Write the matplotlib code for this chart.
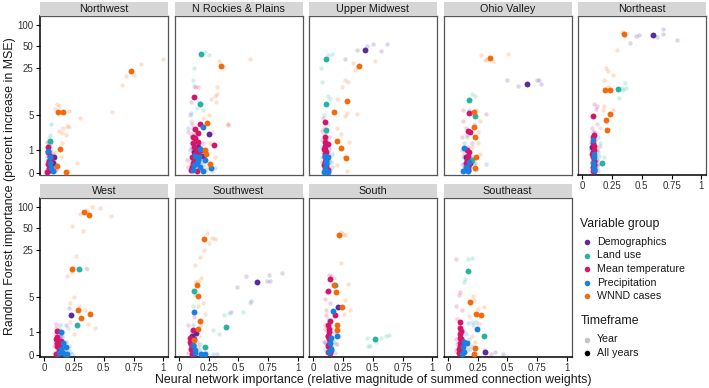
import matplotlib.pyplot as plt
import numpy as np

plt.rcParams['font.family'] = ['Liberation Sans', 'DejaVu Sans']

regions = ["Northwest", "N Rockies & Plains", "Upper Midwest", "Ohio Valley", "Northeast",
           "West", "Southwest", "South", "Southeast"]
group_names = ["Demographics", "Land use", "Mean temperature", "Precipitation", "WNND cases"]
group_codes = ["D", "L", "T", "P", "W"]
group_colors = ["#5b2a9d", "#27b3a0", "#d3166a", "#1b7fe2", "#f26a0c"]
y_ticks = [0, 1, 5, 25, 50, 100]
x_ticks = [0, 0.25, 0.5, 0.75, 1]
x_tick_labels = ["0", "0.25", "0.5", "0.75", "1"]

# (group, neural net importance, RF importance) -- "All years" models
nw_all = [("W", 0.726, 23.1), ("W", 0.116, 5.6), ("W", 0.161, 5.6), ("W", 0.133, 1.09), ("W", 0.11, 0.22),
          ("W", 0.18, 0.02), ("L", 0.048, 1.7), ("T", 0.03, 1.2), ("T", 0.03, 0.9), ("T", 0.04, 0.42),
          ("T", 0.02, 0.03), ("T", 0.05, 0.7), ("P", 0.045, 0.6), ("P", 0.06, 0.15), ("D", 0.07, 0.35),
          ("T", 0.04, 0.15), ("T", 0.06, 0.55), ("T", 0.03, 0.3), ("P", 0.05, 0.35), ("P", 0.07, 0.05),
          ("P", 0.035, 0.95), ("D", 0.05, 0.1), ("D", 0.08, 0.6)]
nr_all = [("L", 0.19, 39), ("L", 0.18, 7.5), ("W", 0.357, 27), ("W", 0.24, 3.7), ("W", 0.23, 0.8),
          ("W", 0.265, 0.32), ("W", 0.22, 1.05), ("T", 0.125, 9.4), ("T", 0.18, 3.6), ("T", 0.14, 2.9),
          ("T", 0.295, 1.35), ("T", 0.12, 2.0), ("T", 0.16, 1.6), ("T", 0.13, 1.2), ("T", 0.19, 1.0),
          ("T", 0.11, 0.6), ("T", 0.15, 0.4), ("T", 0.10, 0.1), ("T", 0.12, 1.5), ("T", 0.14, 0.8),
          ("P", 0.20, 3.2), ("P", 0.18, 1.1), ("P", 0.27, 0.16), ("P", 0.16, 0.5), ("P", 0.13, 0.25),
          ("P", 0.2, 0.05), ("P", 0.22, 0.5), ("D", 0.25, 2.35), ("D", 0.2, 0.7), ("D", 0.14, 0.3),
          ("T", 0.13, 0.5), ("T", 0.15, 1.0), ("T", 0.12, 0.35), ("T", 0.17, 0.75), ("T", 0.14, 1.9),
          ("T", 0.16, 2.4), ("T", 0.11, 0.2), ("T", 0.15, 0.05), ("P", 0.15, 0.35), ("P", 0.18, 0.2),
          ("P", 0.12, 0.1), ("P", 0.17, 0.6), ("P", 0.14, 0.7), ("D", 0.16, 1.2), ("D", 0.13, 0.9)]
um_all = [("D", 0.432, 45.3), ("L", 0.107, 33.2), ("L", 0.104, 7.4), ("L", 0.105, 2.74), ("W", 0.384, 27.1),
          ("W", 0.28, 8.44), ("W", 0.172, 5.56), ("W", 0.20, 1.69), ("W", 0.229, 1.18), ("W", 0.277, 0.58),
          ("T", 0.102, 3.9), ("T", 0.10, 2.04), ("T", 0.10, 1.27), ("T", 0.1, 0.8), ("T", 0.11, 0.5),
          ("T", 0.09, 0.25), ("T", 0.12, 0.1), ("T", 0.095, 1.6), ("P", 0.105, 0.35), ("P", 0.09, 0.02),
          ("P", 0.12, 0.6), ("T", 0.1, 0.6), ("T", 0.11, 0.9), ("T", 0.09, 1.1), ("T", 0.1, 0.4),
          ("T", 0.11, 0.2), ("T", 0.1, 0.05), ("T", 0.12, 1.4), ("P", 0.1, 0.15), ("P", 0.11, 0.45),
          ("P", 0.12, 0.02), ("P", 0.1, 0.7), ("D", 0.11, 0.3), ("D", 0.1, 1.0)]
ov_all = [("W", 0.353, 35.1), ("W", 0.221, 5.7), ("W", 0.221, 3.2), ("W", 0.232, 2.04), ("W", 0.24, 0.63),
          ("W", 0.23, 0.16), ("D", 0.664, 15.0), ("D", 0.19, 0.35), ("L", 0.181, 8.75), ("L", 0.226, 4.9),
          ("L", 0.204, 0.47), ("T", 0.175, 5.5), ("T", 0.167, 2.67), ("T", 0.185, 2.5), ("T", 0.165, 1.0),
          ("T", 0.17, 0.7), ("T", 0.18, 0.3), ("T", 0.16, 0.1), ("P", 0.139, 1.18), ("P", 0.15, 0.2),
          ("P", 0.17, 0.05), ("T", 0.16, 0.5), ("T", 0.17, 0.2), ("T", 0.15, 0.35), ("T", 0.18, 0.9),
          ("P", 0.16, 0.15), ("P", 0.13, 0.05), ("P", 0.18, 0.4), ("D", 0.17, 0.1), ("D", 0.15, 0.6)]
ne_all = [("W", 0.347, 73.6), ("W", 0.192, 12.0), ("W", 0.232, 12.2), ("W", 0.232, 5.2), ("W", 0.195, 4.2),
          ("W", 0.206, 2.82), ("D", 0.59, 71.5), ("L", 0.30, 12.4), ("L", 0.167, 0.35), ("T", 0.093, 4.9),
          ("T", 0.095, 2.2), ("T", 0.09, 1.5), ("T", 0.1, 1.0), ("T", 0.09, 0.6), ("T", 0.095, 0.3),
          ("T", 0.09, 0.05), ("P", 0.09, 1.8), ("P", 0.1, 0.8), ("P", 0.1, 0.1), ("D", 0.085, 1.2),
          ("D", 0.1, 0.45), ("T", 0.09, 0.2), ("T", 0.1, 0.45), ("T", 0.085, 0.8), ("T", 0.1, 1.3),
          ("T", 0.09, 2.0), ("T", 0.1, 0.1), ("P", 0.095, 0.15), ("P", 0.09, 0.35), ("P", 0.1, 0.6),
          ("D", 0.095, 0.25), ("D", 0.09, 0.9), ("D", 0.1, 0.05)]
we_all = [("W", 0.336, 85.4), ("W", 0.379, 77), ("W", 0.232, 13.5), ("W", 0.28, 3.03), ("W", 0.38, 2.55),
          ("W", 0.31, 2.14), ("L", 0.294, 13.2), ("L", 0.277, 1.55), ("D", 0.226, 2.45), ("D", 0.13, 0.3),
          ("T", 0.105, 1.09), ("T", 0.11, 0.74), ("T", 0.105, 0.45), ("T", 0.12, 0.2), ("T", 0.1, 0.02),
          ("T", 0.14, 0.55), ("P", 0.136, 1.0), ("P", 0.184, 0.28), ("P", 0.19, 0.01), ("P", 0.15, 0.1),
          ("T", 0.11, 0.3), ("T", 0.12, 0.1), ("T", 0.1, 0.6), ("T", 0.13, 0.4), ("P", 0.14, 0.2),
          ("P", 0.16, 0.45), ("P", 0.12, 0.05), ("P", 0.17, 0.02), ("D", 0.12, 0.5), ("D", 0.14, 0.05)]
sw_all = [("W", 0.213, 35.9), ("W", 0.156, 7.7), ("W", 0.164, 5.17), ("W", 0.18, 1.83), ("W", 0.159, 1.21),
          ("W", 0.125, 0.57), ("D", 0.656, 8.75), ("D", 0.145, 0.93), ("D", 0.12, 0.3), ("L", 0.125, 6.2),
          ("L", 0.40, 1.37), ("L", 0.221, 0.26), ("P", 0.13, 2.79), ("P", 0.19, 0.01), ("P", 0.22, 0.01),
          ("P", 0.14, 0.15), ("T", 0.116, 1.18), ("T", 0.09, 0.5), ("T", 0.1, 0.2), ("T", 0.11, 0.02),
          ("T", 0.1, 0.4), ("T", 0.12, 0.1), ("T", 0.09, 0.7), ("T", 0.11, 0.55), ("D", 0.13, 0.6),
          ("D", 0.13, 0.15), ("D", 0.11, 0.8), ("P", 0.12, 0.35), ("P", 0.14, 0.05)]
so_all = [("W", 0.215, 40.8), ("W", 0.172, 7.7), ("W", 0.189, 6.1), ("W", 0.237, 3.46), ("W", 0.197, 1.52),
          ("W", 0.2, 1.14), ("T", 0.136, 9.5), ("T", 0.121, 6.37), ("T", 0.18, 2.45), ("T", 0.136, 1.86),
          ("T", 0.13, 1.2), ("T", 0.12, 0.8), ("T", 0.13, 0.4), ("T", 0.12, 0.1), ("L", 0.186, 7.8),
          ("L", 0.517, 0.6), ("D", 0.21, 3.38), ("D", 0.14, 0.6), ("P", 0.164, 2.9), ("P", 0.195, 0.81),
          ("P", 0.15, 0.2), ("T", 0.13, 0.6), ("T", 0.12, 0.3), ("T", 0.14, 0.2), ("T", 0.13, 1.0),
          ("T", 0.12, 1.5), ("T", 0.14, 0.05), ("P", 0.14, 0.45), ("P", 0.13, 0.1), ("P", 0.15, 0.7),
          ("D", 0.13, 0.35), ("D", 0.15, 0.15), ("D", 0.12, 0.8)]
se_all = [("L", 0.173, 12.7), ("L", 0.308, 0.81), ("W", 0.19, 4.13), ("W", 0.24, 2.56), ("W", 0.275, 2.48),
          ("W", 0.218, 0.03), ("W", 0.232, 0.21), ("P", 0.247, 1.23), ("P", 0.16, 0.45), ("P", 0.14, 0.1),
          ("T", 0.105, 1.77), ("T", 0.1, 1.3), ("T", 0.1, 0.9), ("T", 0.11, 0.6), ("T", 0.1, 0.3),
          ("T", 0.09, 0.05), ("D", 0.31, 0.09), ("D", 0.12, 0.4), ("T", 0.1, 0.45), ("T", 0.09, 0.2),
          ("T", 0.11, 1.1), ("T", 0.1, 0.7), ("T", 0.11, 0.15), ("P", 0.13, 0.25), ("P", 0.12, 0.02),
          ("P", 0.14, 0.5), ("D", 0.12, 0.3), ("D", 0.1, 0.1)]

# single-year models (drawn faint)
nw_year = [("W", 0.995, 33.7), ("W", 0.81, 28.9), ("W", 0.755, 20.0), ("W", 0.69, 19.2), ("W", 0.65, 14.1),
           ("W", 0.57, 5.7), ("W", 0.30, 4.5), ("W", 0.105, 7.6), ("W", 0.125, 7.0), ("W", 0.09, 6.3),
           ("W", 0.204, 5.9), ("W", 0.19, 3.3), ("W", 0.16, 3.0), ("W", 0.21, 3.1), ("W", 0.147, 2.45),
           ("W", 0.18, 2.2), ("W", 0.12, 2.6), ("W", 0.15, 1.5), ("W", 0.275, 0.35), ("W", 0.2, 0.05),
           ("W", 0.14, 0.6), ("W", 0.09, 0.9), ("L", 0.05, 2.27), ("L", 0.04, 1.95), ("L", 0.035, 1.5),
           ("L", 0.06, 1.0), ("L", 0.05, 0.3), ("P", 0.054, 3.6), ("P", 0.03, 1.3), ("P", 0.05, 0.8),
           ("P", 0.07, 0.5), ("P", 0.04, 0.2), ("P", 0.08, 0.05), ("P", 0.02, 0.6), ("P", 0.06, 1.6),
           ("T", 0.02, 1.6), ("T", 0.04, 1.0), ("T", 0.03, 0.5), ("T", 0.06, 0.25), ("T", 0.01, 0.1),
           ("T", 0.05, 1.4), ("D", 0.03, 0.8), ("D", 0.06, 0.5), ("D", 0.08, 0.2), ("D", 0.04, 0.05),
           ("D", 0.1, 0.1), ("P", 0.03, 0.4), ("P", 0.05, 0.15), ("P", 0.07, 0.3), ("P", 0.09, 0.1),
           ("P", 0.02, 0.9), ("P", 0.04, 1.2), ("P", 0.06, 0.7), ("P", 0.08, 0.45), ("P", 0.1, 0.25),
           ("P", 0.03, 0.05), ("T", 0.02, 0.3), ("T", 0.05, 0.6), ("T", 0.07, 0.8), ("T", 0.04, 0.35),
           ("T", 0.06, 0.05), ("T", 0.03, 1.1), ("D", 0.05, 0.9), ("D", 0.07, 0.15), ("D", 0.02, 0.45),
           ("L", 0.03, 0.7), ("L", 0.06, 0.4), ("L", 0.08, 0.6)]
nr_year = [("L", 0.22, 42), ("L", 0.25, 38), ("L", 0.13, 25), ("L", 0.12, 17), ("L", 0.13, 14), ("L", 0.15, 6.5),
           ("L", 0.2, 6.0), ("L", 0.17, 8), ("L", 0.1, 4), ("L", 0.12, 2.5), ("W", 0.335, 31), ("W", 0.6, 33),
           ("W", 0.38, 26), ("W", 0.32, 10.7), ("W", 0.3, 10), ("W", 0.27, 9), ("W", 0.31, 8), ("W", 0.41, 3.4),
           ("W", 0.32, 13.5), ("W", 0.25, 5), ("W", 0.2, 4.5), ("W", 0.28, 2.5), ("W", 0.26, 1.5), ("W", 0.3, 0.6),
           ("W", 0.22, 0.2), ("T", 0.14, 13.5), ("T", 0.16, 13.5), ("T", 0.41, 3.5), ("T", 0.1, 8), ("T", 0.09, 5),
           ("T", 0.11, 3.5), ("T", 0.08, 2.5), ("T", 0.13, 2.2), ("T", 0.1, 1.5), ("T", 0.15, 1.8), ("T", 0.09, 1.0),
           ("T", 0.12, 0.7), ("T", 0.17, 0.5), ("T", 0.08, 0.2), ("T", 0.2, 1.5), ("P", 0.1, 5.5), ("P", 0.08, 3),
           ("P", 0.15, 2.5), ("P", 0.1, 1.2), ("P", 0.2, 0.8), ("P", 0.12, 0.4), ("P", 0.25, 0.3), ("P", 0.09, 0.05),
           ("P", 0.28, 0.05), ("P", 0.18, 0.15), ("D", 0.12, 1.8), ("D", 0.18, 1.3), ("D", 0.22, 0.9),
           ("D", 0.1, 0.5), ("D", 0.16, 0.1), ("T", 0.12, 3), ("T", 0.14, 2.8), ("T", 0.16, 1.0), ("T", 0.18, 0.3),
           ("T", 0.13, 0.1), ("T", 0.11, 1.1), ("T", 0.2, 0.6), ("T", 0.1, 2.2), ("T", 0.07, 0.5), ("P", 0.14, 0.2),
           ("P", 0.16, 0.05), ("P", 0.2, 0.3), ("P", 0.23, 0.1), ("P", 0.11, 0.6), ("P", 0.13, 0.9),
           ("P", 0.17, 1.5), ("P", 0.3, 0.15), ("P", 0.22, 0.7), ("D", 0.14, 1.4), ("D", 0.19, 0.45),
           ("D", 0.11, 0.25), ("L", 0.16, 0.8), ("L", 0.1, 0.3), ("L", 0.2, 1.1)]
um_year = [("D", 0.62, 54.8), ("D", 0.50, 54), ("D", 0.45, 50), ("D", 0.57, 42.6), ("D", 0.37, 45), ("D", 0.27, 34),
           ("L", 0.065, 25), ("L", 0.07, 16), ("L", 0.12, 38), ("L", 0.16, 39), ("L", 0.12, 10), ("L", 0.14, 9),
           ("L", 0.09, 5), ("L", 0.12, 3.5), ("W", 0.52, 31.7), ("W", 0.33, 29.6), ("W", 0.35, 23.8),
           ("W", 0.37, 25.5), ("W", 0.27, 17.2), ("W", 0.29, 16), ("W", 0.245, 13.5), ("W", 0.2, 9),
           ("W", 0.28, 5.4), ("W", 0.37, 5.2), ("W", 0.27, 4.8), ("W", 0.2, 3.0), ("W", 0.23, 2.3), ("W", 0.3, 1.6),
           ("W", 0.26, 0.6), ("W", 0.28, 0.05), ("W", 0.2, 0.25), ("T", 0.08, 4.5), ("T", 0.09, 3), ("T", 0.11, 2.5),
           ("T", 0.07, 1.8), ("T", 0.12, 1.4), ("T", 0.08, 0.9), ("T", 0.13, 0.7), ("T", 0.07, 0.4), ("T", 0.1, 0.15),
           ("T", 0.13, 2.0), ("P", 0.09, 2.2), ("P", 0.13, 1.2), ("P", 0.07, 0.6), ("P", 0.15, 0.4), ("P", 0.11, 0.05),
           ("P", 0.16, 0.8), ("D", 0.1, 1.0), ("D", 0.12, 0.3), ("P", 0.08, 0.3), ("P", 0.12, 0.2), ("P", 0.14, 0.1),
           ("P", 0.09, 0.9), ("P", 0.13, 0.5), ("P", 0.16, 0.2), ("P", 0.1, 0.02), ("P", 0.07, 1.2), ("T", 0.09, 0.6),
           ("T", 0.12, 0.9), ("T", 0.11, 0.3), ("T", 0.08, 0.1), ("T", 0.13, 1.1), ("T", 0.1, 2.0), ("T", 0.07, 2.6),
           ("D", 0.09, 0.4), ("D", 0.12, 0.6), ("D", 0.1, 0.1), ("L", 0.11, 1.8), ("L", 0.13, 0.4)]
ov_year = [("W", 0.28, 37.6), ("W", 0.31, 32), ("W", 0.38, 31.5), ("W", 0.51, 39), ("W", 0.33, 34),
           ("D", 0.50, 16.7), ("D", 0.59, 13.7), ("D", 0.75, 16.7), ("D", 0.78, 15), ("D", 0.77, 17),
           ("L", 0.2, 10.7), ("L", 0.23, 10), ("L", 0.18, 6), ("L", 0.22, 3.5), ("L", 0.16, 2), ("T", 0.318, 5.3),
           ("T", 0.13, 4), ("T", 0.15, 3), ("T", 0.12, 2), ("T", 0.2, 1.5), ("T", 0.14, 0.8), ("T", 0.19, 0.5),
           ("T", 0.15, 0.15), ("T", 0.13, 6), ("P", 0.32, 0.3), ("P", 0.14, 1.5), ("P", 0.17, 0.9), ("P", 0.2, 0.4),
           ("P", 0.13, 0.05), ("P", 0.24, 0.1), ("W", 0.24, 6), ("W", 0.27, 4), ("W", 0.25, 2.5), ("W", 0.2, 1.2),
           ("W", 0.27, 0.8), ("W", 0.22, 0.3), ("T", 0.14, 0.3), ("T", 0.17, 1.2), ("T", 0.16, 2.2), ("T", 0.13, 0.6),
           ("T", 0.18, 0.1), ("T", 0.12, 1.0), ("P", 0.15, 0.5), ("P", 0.19, 0.2), ("P", 0.12, 0.3), ("P", 0.21, 0.6),
           ("P", 0.17, 0.02), ("P", 0.23, 0.35), ("D", 0.14, 0.2), ("D", 0.18, 0.7), ("W", 0.19, 0.1),
           ("W", 0.25, 1.5)]
ne_year = [("D", 0.68, 87), ("D", 0.68, 75), ("D", 0.80, 61), ("D", 0.48, 71.5), ("D", 0.45, 70), ("D", 0.40, 56),
           ("D", 0.63, 67), ("W", 0.29, 44.6), ("W", 0.33, 80), ("W", 0.36, 72), ("W", 0.20, 25), ("W", 0.22, 23),
           ("W", 0.26, 20.2), ("W", 0.18, 17), ("W", 0.22, 13.5), ("W", 0.18, 6.9), ("W", 0.17, 6.0),
           ("W", 0.26, 6.0), ("W", 0.2, 4), ("W", 0.15, 3), ("W", 0.12, 1.2), ("L", 0.36, 15.4), ("L", 0.37, 13),
           ("L", 0.34, 12), ("L", 0.31, 9.2), ("L", 0.33, 12.8), ("L", 0.15, 1.5), ("L", 0.18, 0.6),
           ("T", 0.113, 6.3), ("T", 0.12, 7), ("T", 0.1, 7.5), ("T", 0.08, 3), ("T", 0.11, 2.5), ("T", 0.07, 1.6),
           ("T", 0.12, 1), ("T", 0.08, 0.4), ("T", 0.11, 0.15), ("P", 0.12, 3.5), ("P", 0.13, 2), ("P", 0.07, 1),
           ("P", 0.14, 0.7), ("P", 0.08, 0.2), ("P", 0.13, 0.05), ("P", 0.15, 1.3), ("D", 0.09, 2.5),
           ("D", 0.11, 0.7), ("T", 0.08, 0.7), ("T", 0.1, 0.3), ("T", 0.12, 0.5), ("T", 0.07, 1.1), ("T", 0.11, 1.8),
           ("T", 0.09, 0.02), ("P", 0.11, 0.4), ("P", 0.13, 0.9), ("P", 0.09, 1.4), ("P", 0.12, 0.15),
           ("P", 0.14, 0.3), ("P", 0.1, 2.2), ("D", 0.1, 0.9), ("D", 0.08, 0.15), ("D", 0.12, 0.25),
           ("L", 0.12, 0.5), ("L", 0.1, 1.2)]
we_year = [("W", 0.40, 99), ("W", 0.47, 97), ("W", 0.557, 74), ("W", 0.36, 90), ("W", 0.30, 80), ("W", 0.23, 54),
           ("W", 0.325, 46), ("W", 0.27, 20.6), ("W", 0.19, 10.7), ("W", 0.23, 12), ("W", 0.35, 14), ("W", 0.22, 4),
           ("W", 0.25, 5), ("W", 0.29, 3.5), ("W", 0.34, 3), ("W", 0.37, 1.6), ("W", 0.43, 1.32), ("W", 0.22, 1.8),
           ("W", 0.25, 0.9), ("D", 0.21, 3.3), ("D", 0.18, 1.5), ("L", 0.36, 13.5), ("L", 0.25, 14.5),
           ("L", 0.2, 1.3), ("L", 0.15, 0.7), ("T", 0.1, 1.6), ("T", 0.09, 0.9), ("T", 0.12, 0.6), ("T", 0.08, 0.3),
           ("T", 0.11, 0.1), ("T", 0.14, 0.9), ("P", 0.13, 1.5), ("P", 0.15, 0.8), ("P", 0.18, 0.5), ("P", 0.2, 0.2),
           ("P", 0.1, 0.4), ("P", 0.16, 0.05), ("P", 0.22, 0.1), ("P", 0.12, 1.2), ("T", 0.09, 0.5), ("T", 0.11, 0.2),
           ("T", 0.13, 0.15), ("T", 0.1, 1.3), ("T", 0.12, 1.1), ("T", 0.08, 0.05), ("P", 0.14, 0.3),
           ("P", 0.17, 0.15), ("P", 0.19, 0.05), ("P", 0.21, 0.3), ("P", 0.12, 0.7), ("P", 0.11, 0.05),
           ("P", 0.16, 1.0), ("P", 0.23, 0.02), ("D", 0.13, 0.8), ("D", 0.15, 0.3), ("L", 0.13, 0.2), ("L", 0.17, 0.5)]
sw_year = [("W", 0.238, 42.6), ("W", 0.28, 37), ("W", 0.3, 36), ("W", 0.25, 31), ("W", 0.21, 24.9), ("W", 0.18, 20),
           ("W", 0.14, 15.3), ("W", 0.16, 9), ("W", 0.14, 8.5), ("W", 0.19, 10), ("W", 0.2, 4), ("W", 0.16, 3.5),
           ("W", 0.22, 2.5), ("W", 0.19, 1.5), ("W", 0.17, 0.8), ("D", 0.865, 11.8), ("D", 0.76, 11.1),
           ("D", 0.74, 9.0), ("D", 0.77, 9.0), ("D", 0.565, 10.6), ("D", 0.49, 7.1), ("D", 0.605, 4.3),
           ("D", 0.435, 2.75), ("D", 0.12, 0.6), ("L", 0.6, 4), ("L", 0.54, 2.8), ("L", 0.38, 2.4), ("L", 0.42, 2.7),
           ("L", 0.29, 1.14), ("L", 0.336, 0.87), ("L", 0.12, 3.5), ("L", 0.14, 5.5), ("P", 0.29, 0.03),
           ("P", 0.32, 0.03), ("P", 0.12, 1.5), ("P", 0.15, 0.5), ("P", 0.1, 0.1), ("P", 0.17, 0.2), ("T", 0.08, 1.5),
           ("T", 0.1, 0.8), ("T", 0.09, 0.3), ("T", 0.12, 0.05), ("T", 0.13, 2.2), ("T", 0.09, 0.2), ("T", 0.11, 0.35),
           ("T", 0.1, 1.0), ("T", 0.12, 0.7), ("T", 0.08, 0.05), ("D", 0.13, 0.4), ("D", 0.11, 0.1), ("D", 0.14, 0.9),
           ("P", 0.13, 0.25), ("P", 0.16, 0.05), ("P", 0.11, 0.6), ("P", 0.18, 0.4), ("P", 0.2, 0.02),
           ("P", 0.23, 0.05), ("L", 0.14, 0.3), ("L", 0.18, 0.1), ("W", 0.16, 0.3)]
so_year = [("W", 0.23, 45), ("W", 0.25, 42), ("W", 0.27, 40), ("W", 0.23, 16.6), ("W", 0.29, 8.1), ("W", 0.27, 4.4),
           ("W", 0.305, 3.0), ("W", 0.26, 2.5), ("W", 0.22, 0.8), ("W", 0.2, 0.4), ("T", 0.13, 11), ("T", 0.15, 10.5),
           ("T", 0.11, 6.0), ("T", 0.1, 4.6), ("T", 0.14, 4.0), ("T", 0.11, 3.0), ("T", 0.1, 1.5), ("T", 0.14, 1.0),
           ("T", 0.09, 0.5), ("T", 0.13, 0.15), ("L", 0.45, 0.7), ("L", 0.48, 0.3), ("L", 0.57, 0.7),
           ("L", 0.61, 0.8), ("L", 0.64, 0.85), ("L", 0.46, 0.3), ("L", 0.53, 0.5), ("L", 0.17, 10), ("P", 0.2, 0.9),
           ("P", 0.17, 0.5), ("P", 0.12, 2.0), ("P", 0.15, 1.3), ("P", 0.1, 0.2), ("P", 0.18, 0.05), ("D", 0.12, 1.5),
           ("D", 0.15, 0.8), ("T", 0.11, 0.4), ("T", 0.12, 0.7), ("T", 0.15, 0.3), ("T", 0.1, 1.2), ("T", 0.14, 1.6),
           ("T", 0.11, 2.4), ("T", 0.13, 0.05), ("P", 0.14, 0.6), ("P", 0.16, 0.25), ("P", 0.12, 0.05),
           ("P", 0.17, 1.0), ("P", 0.1, 0.5), ("P", 0.19, 0.4), ("D", 0.13, 0.2), ("D", 0.14, 1.1), ("L", 0.15, 0.5)]
se_year = [("L", 0.173, 18.7), ("L", 0.2, 19), ("L", 0.148, 9.7), ("L", 0.135, 8.5), ("L", 0.2, 1.8),
           ("T", 0.066, 18.7), ("T", 0.1, 6), ("T", 0.09, 5.5), ("T", 0.07, 3.5), ("T", 0.12, 3), ("T", 0.08, 2),
           ("T", 0.12, 1), ("T", 0.07, 0.6), ("T", 0.13, 0.3), ("T", 0.08, 0.1), ("W", 0.21, 5.2), ("W", 0.22, 4.5),
           ("W", 0.30, 3.4), ("W", 0.25, 3.2), ("W", 0.26, 1.6), ("W", 0.23, 0.5), ("W", 0.3, 0.15), ("W", 0.18, 2.3),
           ("D", 0.365, 0.03), ("D", 0.46, 0.03), ("D", 0.4, 0.1), ("P", 0.24, 1.8), ("P", 0.17, 1.7),
           ("P", 0.21, 1.5), ("P", 0.15, 0.9), ("P", 0.19, 0.2), ("P", 0.12, 0.05), ("T", 0.08, 0.4), ("T", 0.1, 0.9),
           ("T", 0.12, 0.6), ("T", 0.09, 1.4), ("T", 0.07, 0.15), ("T", 0.11, 0.05), ("P", 0.13, 0.4),
           ("P", 0.16, 0.15), ("P", 0.18, 0.6), ("P", 0.14, 1.1), ("P", 0.2, 0.3), ("P", 0.11, 0.25),
           ("P", 0.22, 0.05), ("D", 0.12, 0.7), ("D", 0.1, 0.3), ("D", 0.14, 0.1), ("W", 0.2, 0.8), ("W", 0.17, 0.3)]

all_years = [nw_all, nr_all, um_all, ov_all, ne_all, we_all, sw_all, so_all, se_all]
single_years = [nw_year, nr_year, um_year, ov_year, ne_year, we_year, sw_year, so_year, se_year]


def fwd(y):
    return np.log10(1 + np.clip(y, -0.99, None))


def inv(t):
    return 10 ** t - 1


W, H = 709, 388
fig = plt.figure(figsize=(W / 100, H / 100), dpi=100)

col_left = [40, 174.5, 309, 443.5, 578]
panel_w = 128
panel_top = [16, 198]
panel_h = 159
strip_h = 14.5

for i, name in enumerate(regions):
    r, c = divmod(i, 5)
    left = col_left[c]
    top = panel_top[r]
    ax = fig.add_axes([left / W, 1 - (top + panel_h) / H, panel_w / W, panel_h / H])
    ax.set_yscale('function', functions=(fwd, inv))
    ax.set_xlim(-0.0364, 1.0398)
    ax.set_ylim(inv(-0.033), inv(2.12))

    for pts, alpha, size in [(single_years[i], 0.2, 10), (all_years[i], 1.0, 18)]:
        for code, col in zip(group_codes, group_colors):
            xs = [p[1] for p in pts if p[0] == code]
            ys = [p[2] for p in pts if p[0] == code]
            ax.scatter(xs, ys, s=size, color=col, alpha=alpha, linewidths=0, zorder=3 if alpha == 1 else 2)

    for s in ax.spines.values():
        s.set_color("#555555")
        s.set_linewidth(0.9)
    ax.set_xticks(x_ticks)
    ax.set_yticks(y_ticks)
    ax.set_yticklabels([str(v) for v in y_ticks])
    ax.tick_params(length=3, width=0.8, color="black", labelsize=7, labelcolor="#333333", pad=1.5)
    if c == 0:
        ax.spines['left'].set_color("black")
        ax.spines['left'].set_linewidth(1.1)
    else:
        ax.tick_params(axis='y', left=False, labelleft=False)
    if r == 1 or c == 4:
        ax.set_xticklabels(x_tick_labels)
        ax.spines['bottom'].set_color("black")
        ax.spines['bottom'].set_linewidth(1.1)
    else:
        ax.tick_params(axis='x', bottom=False, labelbottom=False)
    ax.minorticks_off()

    sax = fig.add_axes([left / W, 1 - top / H, panel_w / W, strip_h / H])
    sax.set_facecolor("#d6d6d6")
    sax.set_xticks([])
    sax.set_yticks([])
    for s in sax.spines.values():
        s.set_visible(False)
    sax.text(0.5, 0.5, name, ha='center', va='center', fontsize=7.8, color="#1a1a1a", transform=sax.transAxes)

fig.text(373 / W, 1 - 380 / H, "Neural network importance (relative magnitude of summed connection weights)",
         ha='center', va='center', fontsize=8.9, color="#1a1a1a")
fig.text(10 / W, 1 - 186 / H, "Random Forest importance (percent increase in MSE)",
         ha='center', va='center', rotation=90, fontsize=8.9, color="#1a1a1a")

# legend
lax = fig.add_axes([0, 0, 1, 1])
lax.set_xlim(0, W)
lax.set_ylim(H, 0)
lax.axis('off')
lax.text(580.5, 224, "Variable group", fontsize=8.8, va='center', ha='left', color="#1a1a1a")
for k, (gname, col) in enumerate(zip(group_names, group_colors)):
    yy = 242 + k * 13.5
    lax.scatter([586.5], [yy], s=16, color=col, linewidths=0)
    lax.text(597, yy, gname, fontsize=7.7, va='center', ha='left', color="#1a1a1a")
lax.text(580.5, 321, "Timeframe", fontsize=8.8, va='center', ha='left', color="#1a1a1a")
for k, (lab, col) in enumerate([("Year", "#c4c4c4"), ("All years", "black")]):
    yy = 339.5 + k * 13.5
    lax.scatter([586.5], [yy], s=16, color=col, linewidths=0)
    lax.text(597, yy, lab, fontsize=7.7, va='center', ha='left', color="#1a1a1a")

fig.savefig("out.png", dpi=100)
